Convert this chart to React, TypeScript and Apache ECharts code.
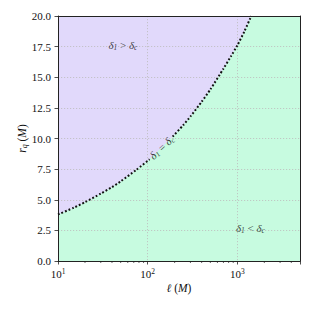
import React, { useEffect, useRef } from "react";
import * as echarts from "echarts";

// Boundary curve delta_1 = delta_c
const ellLow = [10, 15, 20, 30, 40, 50, 75, 105];
const rqLow = [3.8, 4.35, 4.8, 5.5, 6.03, 6.5, 7.45, 8.3];
const ellHigh = [190, 250, 300, 400, 500, 700, 850, 1000, 1200, 1430];
const rqHigh = [10.15, 11.1, 11.8, 13.0, 14.0, 15.7, 16.72, 17.6, 18.75, 20.0];
const ellMid = [150];
const rqMid = [9.4];

const X_MIN = 10;
const X_MAX = 5000;
const Y_MIN = 0;
const Y_MAX = 20;
const Y_STEP = 2.5;

const minorTicks = [20, 30, 40, 50, 60, 70, 80, 90, 200, 300, 400, 500, 600, 700, 800, 900, 2000, 3000, 4000];

const labelEll = [53, 1400, 143];
const labelRq = [17.6, 2.7, 9.28];
const labelText = [
  "{d|δ}{s|1}{n| > }{d|δ}{s|c}",
  "{d|δ}{s|1}{n| < }{d|δ}{s|c}",
  "{d|δ}{s|1}{n| = }{d|δ}{s|c}",
];
const labelRotate = [0, 0, 43];

const PURPLE = "#e1d9fb";
const GREEN = "#c7fbe0";
const FONT = "'Liberation Serif', 'DejaVu Serif', serif";
const AXIS_COLOR = "#222";

export default function App() {
  const ref = useRef<HTMLDivElement>(null);
  useEffect(() => {
    if (!ref.current) return;
    const chart = echarts.init(ref.current, null, { renderer: "svg" });
    const fullCurve: number[][] = [];
    ellLow.forEach((x, i) => fullCurve.push([x, rqLow[i]]));
    ellMid.forEach((x, i) => fullCurve.push([x, rqMid[i]]));
    ellHigh.forEach((x, i) => fullCurve.push([x, rqHigh[i]]));
    const areaData = [...fullCurve, [X_MAX, Y_MAX]];

    const richText = {
      d: { fontFamily: FONT, fontSize: 11, fontStyle: "italic", color: "#111" },
      s: { fontFamily: FONT, fontSize: 7.5, fontStyle: "italic", color: "#111", padding: [5, 0, 0, 0] },
      n: { fontFamily: FONT, fontSize: 11, color: "#111" },
    };

    const option: any = {
      animation: false,
      grid: {
        left: 58,
        top: 16,
        right: 12,
        bottom: 51,
        show: true,
        backgroundColor: PURPLE,
        borderWidth: 0,
      },
      xAxis: [
        {
          type: "log",
          logBase: 10,
          min: X_MIN,
          max: X_MAX,
          z: 3,
          name: "{i|ℓ}{n| (}{i|M}{n|)}",
          nameLocation: "middle",
          nameGap: 21,
          nameMoveOverlap: false,
          nameTextStyle: {
            rich: {
              i: { fontFamily: FONT, fontSize: 11.5, fontStyle: "italic", color: "#111" },
              n: { fontFamily: FONT, fontSize: 11.5, color: "#111" },
            },
          },
          axisLine: { show: true, onZero: false, lineStyle: { color: AXIS_COLOR, width: 1 } },
          axisTick: { show: true, length: 3.5, lineStyle: { color: AXIS_COLOR, width: 0.8 } },
          axisLabel: {
            margin: 6,
            formatter: (v: number) => {
              const e = Math.log10(v);
              if (Math.abs(e - Math.round(e)) > 1e-6) return "";
              return `{b|10}{p|${Math.round(e)}}`;
            },
            rich: {
              b: { fontFamily: FONT, fontSize: 11, color: "#111" },
              p: { fontFamily: FONT, fontSize: 7.5, color: "#111", padding: [0, 0, 6, 0] },
            },
          },
          splitLine: {
            show: true,
            lineStyle: { color: "#bdbdbd", width: 0.8, type: [1.2, 1.8] },
          },
        },
        {
          type: "log",
          logBase: 10,
          min: X_MIN,
          max: X_MAX,
          position: "top",
          z: 3,
          axisLine: { show: true, onZero: false, lineStyle: { color: AXIS_COLOR, width: 1 } },
          axisTick: { show: false },
          axisLabel: { show: false },
          splitLine: { show: false },
        },
      ],
      yAxis: [
        {
          type: "value",
          min: Y_MIN,
          max: Y_MAX,
          interval: Y_STEP,
          z: 3,
          name: "{i|r}{s|q}{n| (}{i|M}{n|)}",
          nameLocation: "middle",
          nameGap: 30,
          nameMoveOverlap: false,
          nameRotate: 90,
          nameTextStyle: {
            rich: {
              i: { fontFamily: FONT, fontSize: 11.5, fontStyle: "italic", color: "#111" },
              s: { fontFamily: FONT, fontSize: 8, fontStyle: "italic", color: "#111", padding: [5, 0, 0, 0] },
              n: { fontFamily: FONT, fontSize: 11.5, color: "#111" },
            },
          },
          axisLine: { show: true, onZero: false, lineStyle: { color: AXIS_COLOR, width: 1 } },
          axisTick: { show: true, length: 3.5, lineStyle: { color: AXIS_COLOR, width: 0.8 } },
          axisLabel: {
            margin: 7,
            fontFamily: FONT,
            fontSize: 11,
            color: "#111",
            formatter: (v: number) => v.toFixed(1),
          },
          splitLine: {
            show: true,
            lineStyle: { color: "#bdbdbd", width: 0.8, type: [1.2, 1.8] },
          },
        },
        {
          type: "value",
          min: Y_MIN,
          max: Y_MAX,
          position: "right",
          z: 3,
          axisLine: { show: true, onZero: false, lineStyle: { color: AXIS_COLOR, width: 1 } },
          axisTick: { show: false },
          axisLabel: { show: false },
          splitLine: { show: false },
        },
      ],
      series: [
        {
          type: "line",
          data: areaData,
          showSymbol: false,
          symbol: "none",
          lineStyle: { width: 0 },
          areaStyle: { color: GREEN, opacity: 1 },
          z: 1,
          silent: true,
        },
        {
          type: "line",
          data: ellLow.map((x, i) => [x, rqLow[i]]),
          showSymbol: false,
          symbol: "none",
          smooth: 0.2,
          lineStyle: { color: "#111", width: 2, type: [1.8, 2.0], cap: "butt" },
          z: 5,
          silent: true,
        },
        {
          type: "line",
          data: ellHigh.map((x, i) => [x, rqHigh[i]]),
          showSymbol: false,
          symbol: "none",
          smooth: 0.2,
          lineStyle: { color: "#111", width: 2, type: [1.8, 2.0], cap: "butt" },
          z: 5,
          silent: true,
        },
        {
          type: "custom",
          clip: false,
          silent: true,
          z: 4,
          data: minorTicks.map((v) => [v, Y_MIN]),
          renderItem: (params: any, api: any) => {
            const p = api.coord([api.value(0), Y_MIN]);
            return {
              type: "line",
              shape: { x1: p[0], y1: p[1], x2: p[0], y2: p[1] + 2 },
              style: { stroke: AXIS_COLOR, lineWidth: 0.7 },
            };
          },
        },
        {
          type: "scatter",
          symbolSize: 0,
          clip: false,
          silent: true,
          z: 6,
          data: labelEll.map((x, i) => ({
            value: [x, labelRq[i]],
            name: labelText[i],
            label: { rotate: labelRotate[i] },
          })),
          label: {
            show: true,
            position: "inside",
            formatter: (p: any) => p.name,
            rich: richText,
          },
        },
      ],
    };
    chart.setOption(option);
    return () => chart.dispose();
  }, []);
  return <div ref={ref} style={{ width: 312, height: 312, margin: -8 }} />;
}
